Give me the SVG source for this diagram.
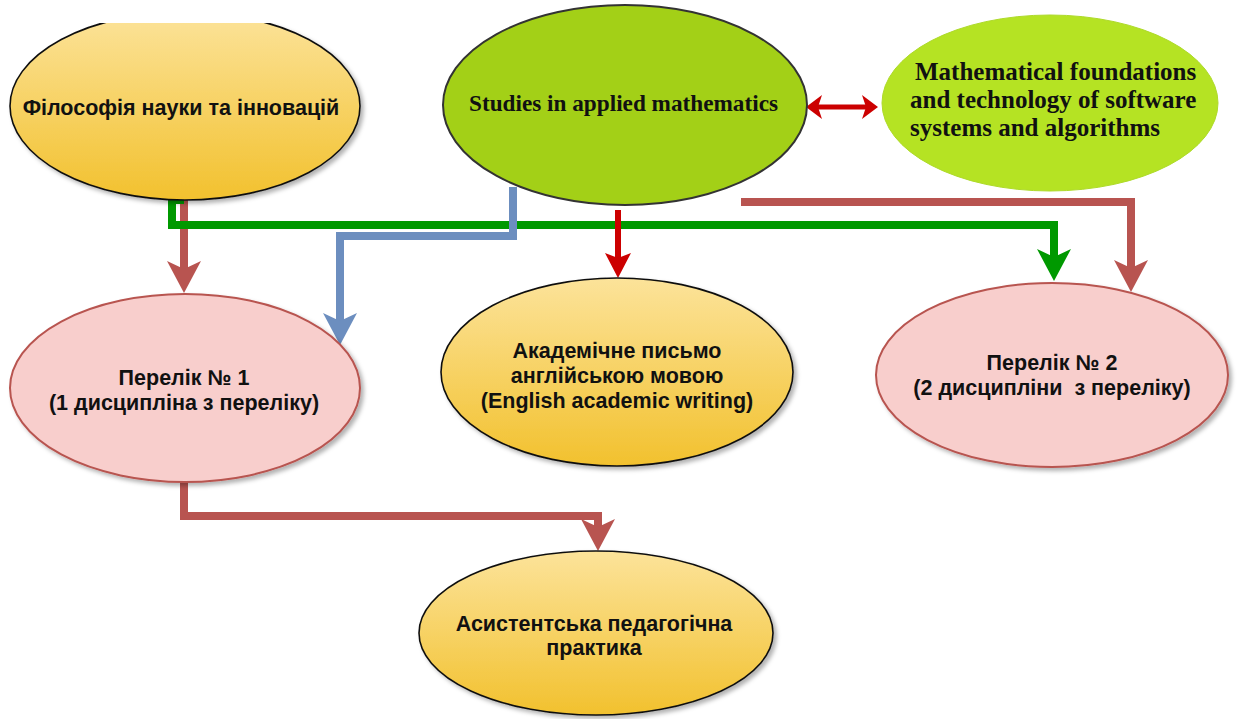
<svg xmlns="http://www.w3.org/2000/svg" width="1238" height="719" viewBox="0 0 1238 719">
<style>
.sans{font-family:"Liberation Sans",Arial,sans-serif;font-weight:bold;font-size:21.5px;fill:#111;text-anchor:middle}
.serif{font-family:"Liberation Serif","Times New Roman",serif;font-weight:bold;fill:#111}
.yel{fill:url(#gy);stroke:#111;stroke-width:1.6}
.pink{fill:#F8CECC;stroke:#B85450;stroke-width:2}
.conn{fill:none;stroke-linejoin:miter;stroke-linecap:butt}
</style>
<defs>
<linearGradient id="gy" x1="0" y1="0" x2="0" y2="1">
<stop offset="0" stop-color="#FCE39A"/>
<stop offset="1" stop-color="#F2C12E"/>
</linearGradient>
<filter id="sh" x="-10%" y="-10%" width="125%" height="130%">
<feDropShadow dx="3" dy="3" stdDeviation="2" flood-color="#000" flood-opacity="0.3"/>
</filter>
<clipPath id="clipTop"><rect x="0" y="23" width="1238" height="700"/></clipPath>
<marker id="aBrown" viewBox="0 -17 32 34" refX="8" refY="0" markerWidth="32" markerHeight="34" markerUnits="userSpaceOnUse" orient="auto"><path d="M0,-17 L32,0 L0,17 L8,0 Z" fill="#B85450"/></marker>
<marker id="aGreen" viewBox="0 -17 32 34" refX="8" refY="0" markerWidth="32" markerHeight="34" markerUnits="userSpaceOnUse" orient="auto"><path d="M0,-17 L32,0 L0,17 L8,0 Z" fill="#009900"/></marker>
<marker id="aBlue" viewBox="0 -17 32 34" refX="8" refY="0" markerWidth="32" markerHeight="34" markerUnits="userSpaceOnUse" orient="auto"><path d="M0,-17 L32,0 L0,17 L8,0 Z" fill="#6C8EBF"/></marker>
<marker id="aRed" viewBox="0 -13 25 26" refX="5" refY="0" markerWidth="25" markerHeight="26" markerUnits="userSpaceOnUse" orient="auto"><path d="M0,-13 L25,0 L0,13 L5,0 Z" fill="#CC0000"/></marker>
<marker id="aRedS" viewBox="0 -12 16 24" refX="4" refY="0" markerWidth="16" markerHeight="24" markerUnits="userSpaceOnUse" orient="auto-start-reverse"><path d="M0,-12 L16,0 L0,12 L4,0 Z" fill="#CC0000"/></marker>
</defs>

<g id="connectors">
<path class="conn" d="M184,200 V269" stroke="#B85450" stroke-width="8" marker-end="url(#aBrown)"/>
<path class="conn" d="M184,200 H172 V225 H1054 V257" stroke="#009900" stroke-width="8" marker-end="url(#aGreen)"/>
<path class="conn" d="M513,187 V236 H340 V321" stroke="#6C8EBF" stroke-width="8" marker-end="url(#aBlue)"/>
<path class="conn" d="M618,210 V258" stroke="#CC0000" stroke-width="6" marker-end="url(#aRed)"/>
<path class="conn" d="M741,202 H1131 V268" stroke="#B85450" stroke-width="8" marker-end="url(#aBrown)"/>
<path class="conn" d="M818,107 H866" stroke="#CC0000" stroke-width="5" marker-start="url(#aRedS)" marker-end="url(#aRedS)"/>
<path class="conn" d="M184,482 V516 H598 V527" stroke="#B85450" stroke-width="8" marker-end="url(#aBrown)"/>
</g>

<g id="node-philosophy">
<g clip-path="url(#clipTop)"><ellipse class="yel" cx="185" cy="106" rx="175" ry="94" filter="url(#sh)"/></g>
<text class="sans" x="181" y="114.5">Філософія науки та інновацій</text>
</g>

<g id="node-studies">
<ellipse cx="625" cy="105" rx="182" ry="100" fill="#A3D017" stroke="#333" stroke-width="2"/>
<text class="serif" x="469" y="111" font-size="23" textLength="309" lengthAdjust="spacingAndGlyphs">Studies in applied mathematics</text>
</g>

<g id="node-foundations">
<ellipse cx="1050" cy="103" rx="168" ry="88" fill="#B5E323" stroke="#AEDA2A" stroke-width="1"/>
<text class="serif" font-size="25">
<tspan x="915" y="80">Mathematical foundations</tspan>
<tspan x="910" y="108">and technology of software</tspan>
<tspan x="910" y="136">systems and algorithms</tspan>
</text>
</g>

<g id="node-list1">
<ellipse class="pink" cx="185" cy="388" rx="175" ry="94" filter="url(#sh)"/>
<text class="sans"><tspan x="184" y="384.5">Перелік № 1</tspan><tspan x="184" y="409.5">(1 дисципліна з переліку)</tspan></text>
</g>

<g id="node-academic">
<ellipse class="yel" cx="617" cy="372" rx="176" ry="94" filter="url(#sh)"/>
<text class="sans"><tspan x="617" y="357.5">Академічне письмо</tspan><tspan x="617" y="382.5">англійською мовою</tspan><tspan x="617" y="407.5">(English academic writing)</tspan></text>
</g>

<g id="node-list2">
<ellipse class="pink" cx="1052" cy="375" rx="176" ry="92" filter="url(#sh)"/>
<text class="sans"><tspan x="1052" y="369.5">Перелік № 2</tspan><tspan x="1052" y="394.5" xml:space="preserve">(2 дисципліни  з переліку)</tspan></text>
</g>

<g id="node-practice">
<ellipse class="yel" cx="596" cy="633" rx="177" ry="82" filter="url(#sh)"/>
<text class="sans"><tspan x="594" y="630.5">Асистентська педагогічна</tspan><tspan x="594" y="654.5">практика</tspan></text>
</g>
</svg>
